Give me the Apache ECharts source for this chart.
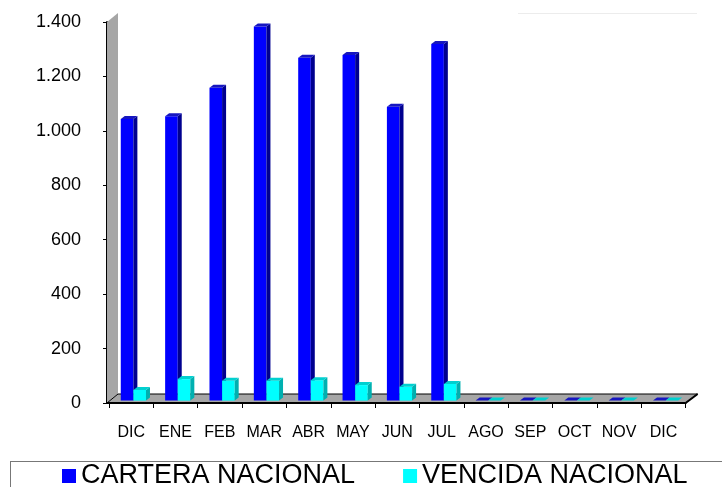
<!DOCTYPE html>
<html>
<head>
<meta charset="utf-8">
<script src="https://cdn.jsdelivr.net/npm/echarts@6/dist/echarts.min.js"></script>
<style>html,body{margin:0;padding:0;background:#fff;}#c{width:722px;height:487px;}</style>
</head>
<body>
<div id="c"></div>
<script>
const categories = ['DIC','ENE','FEB','MAR','ABR','MAY','JUN','JUL','AGO','SEP','OCT','NOV','DIC'];
const carteraNacional = [1035,1045,1150,1375,1260,1270,1080,1310,0,0,0,0,0];
const vencidaNacional = [39,79,73,73,75,57,51,61,0,0,0,0,0];
const yTicks = [0,200,400,600,800,1000,1200,1400];
const seriesNames = ['CARTERA NACIONAL','VENCIDA NACIONAL'];

const FONT = 'Liberation Sans, Arial, sans-serif';
const palettes = [
  {front:'#0000ff', side:'#00008f', top:'#1616c0'},
  {front:'#00ffff', side:'#00b0b0', top:'#00d0d0'}
];

function makeRender(si){
  const c = palettes[si];
  return function(params, api){
    const i = api.value(0), v = api.value(1);
    const top = api.coord([i, v]);
    const base = api.coord([i, 0]);
    const band = api.size([1,0])[0];
    const bw = band * 0.284;
    const dx = 2.2, dy = -2.4, sx = 4, sy = -3;
    const cx = top[0] + dx;
    const x0 = si === 0 ? cx - bw : cx;
    const x1 = x0 + bw;
    const yt = top[1] + dy, yb = base[1] + dy;
    const children = [];
    if (yb - yt > 0.3) {
      children.push({type:'rect', shape:{x:x0, y:yt, width:bw, height:yb-yt}, style:{fill:c.front}});
      children.push({type:'polygon', shape:{points:[[x1,yt],[x1+sx,yt+sy],[x1+sx,yb+sy],[x1,yb]]}, style:{fill:c.side}});
    }
    children.push({type:'polygon', shape:{points:[[x0,yt],[x1,yt],[x1+sx,yt+sy],[x0+sx,yt+sy]]}, style:{fill:c.top}});
    return {type:'group', children};
  };
}

function frameRender(params, api){
  const cs = params.coordSys;
  const L = cs.x - 2, B = cs.y + cs.height, R = cs.x + cs.width, T = cs.y;
  const ddx = 11, ddy = -9;
  return {type:'group', children:[
    {type:'polygon', shape:{points:[[L,T],[L+ddx,T+ddy],[L+ddx,B+ddy],[L,B]]}, style:{fill:'#a6a6a6'}},
    {type:'polygon', shape:{points:[[L,B],[L+ddx,B+ddy],[R+12,B+ddy],[R,B]]}, style:{fill:'#a6a6a6', stroke:'#000', lineWidth:1}},
    {type:'line', shape:{x1:L, y1:B, x2:R, y2:B}, style:{stroke:'#000', lineWidth:2}},
    {type:'line', shape:{x1:R, y1:B, x2:R+12, y2:B+ddy}, style:{stroke:'#000', lineWidth:2}}
  ]};
}

const chart = echarts.init(document.getElementById('c'), null, {renderer:'canvas'});
chart.setOption({
  animation:false,
  backgroundColor:'#fff',
  grid:{left:109, right:36.4, top:22, bottom:84, containLabel:false},
  xAxis:{
    type:'category', data:categories, boundaryGap:true,
    axisLine:{show:true, lineStyle:{color:'#000', width:2}},
    axisTick:{show:true, length:5, lineStyle:{color:'#000', width:1}},
    axisLabel:{color:'#000', fontSize:16, fontFamily:FONT, margin:22, interval:0},
    splitLine:{show:false}
  },
  yAxis:{
    type:'value', min:0, max:1400, interval:200, offset:2,
    axisLine:{show:true, lineStyle:{color:'#000', width:2}},
    axisTick:{show:true, length:4, lineStyle:{color:'#000', width:1}},
    axisLabel:{color:'#000', fontSize:18, fontFamily:FONT, margin:26,
      formatter:function(v){ return yTicks.indexOf(v) >= 0 ? String(v).replace(/\B(?=(\d{3})+(?!\d))/g,'.') : ''; }},
    splitLine:{show:false}
  },
  legend:{
    data:seriesNames, left:62, top:462.5, itemWidth:14, itemHeight:14, itemGap:48, padding:0,
    icon:'rect', textStyle:{color:'#000', fontSize:27, fontFamily:FONT, lineHeight:27}
  },
  graphic:[
    {type:'line', shape:{x1:10, y1:461.5, x2:722, y2:461.5}, style:{stroke:'#777', lineWidth:1}},
    {type:'line', shape:{x1:10.5, y1:461, x2:10.5, y2:487}, style:{stroke:'#777', lineWidth:1}},
    {type:'line', shape:{x1:518, y1:13.5, x2:697, y2:13.5}, style:{stroke:'#ececec', lineWidth:1}}
  ],
  series:[
    {type:'custom', name:'frame', silent:true, z:1, renderItem:frameRender, data:[[0,0]], legendHoverLink:false},
    {type:'custom', name:seriesNames[0], z:2, itemStyle:{color:palettes[0].front}, renderItem:makeRender(0),
      data:carteraNacional.map((v,i)=>[i,v]), encode:{x:0,y:1}},
    {type:'custom', name:seriesNames[1], z:2, itemStyle:{color:palettes[1].front}, renderItem:makeRender(1),
      data:vencidaNacional.map((v,i)=>[i,v]), encode:{x:0,y:1}}
  ]
});
</script>
</body>
</html>
